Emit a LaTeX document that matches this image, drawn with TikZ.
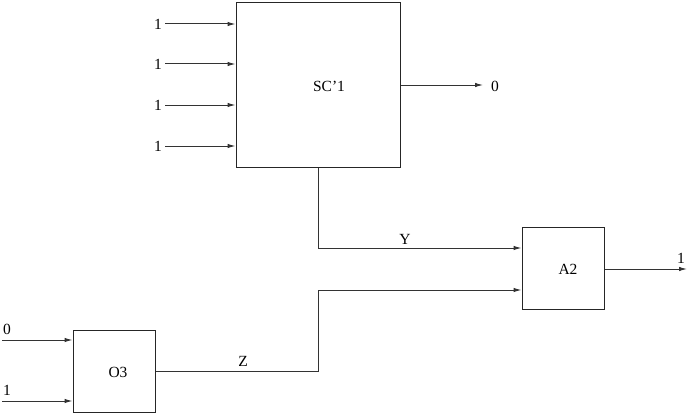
\documentclass[tikz,border=0pt]{standalone}
\usepackage{fontspec}
\setmainfont{Liberation Serif}
\usetikzlibrary{arrows.meta}
\begin{document}
\begin{tikzpicture}[x=1pt,y=-1pt,
  blk/.style={draw=black!85,line width=1pt,minimum width=#1,minimum height=#1,inner sep=0pt},
  wire/.style={draw=black!80,line width=1pt},
  arr/.style={wire,-{Latex[length=8pt,width=4.5pt]}},
  lbl/.style={inner sep=0pt,font=\fontsize{15.5}{18}\selectfont}]
\useasboundingbox (0,0) rectangle (696,420);
% blocks
\node[blk=164pt] (SC) at (318,85) {};
\node[blk=82pt] (A2) at (563,268.5) {};
\node[blk=82pt] (O3) at (114,371) {};
\node[lbl] (tSC) at (329,86) {SC'1};
\node[lbl] (tA2) at (568,269) {A2};
\node[lbl] (tO3) at (118,372) {O3};
% SC'1 inputs
\foreach \i/\y in {1/24,2/64,3/105,4/146}{
  \node[lbl,anchor=east] (l\i) at (162,\y) {1};
  \coordinate (s\i) at (165,\y);
  \draw[arr] (s\i) -- (SC.west |- s\i);
}
% SC'1 output
\coordinate (sco) at (483,85);
\node[lbl,anchor=west] (out0) at (491,86) {0};
\draw[arr] (SC.east |- sco) -- (sco);
% Y
\coordinate (ycorner) at (318,248);
\draw[arr] (SC.south) -- (ycorner) -- (A2.west |- ycorner);
\node[lbl] (Y) at (405,239) {Y};
% A2 output
\coordinate (a2o) at (687,269);
\draw[arr] (A2.east |- a2o) -- (a2o);
\node[lbl] (out1) at (681,258) {1};
% O3 inputs
\coordinate (oi1) at (2,340);
\coordinate (oi2) at (2,401);
\draw[arr] (oi1) -- (O3.west |- oi1);
\draw[arr] (oi2) -- (O3.west |- oi2);
\node[lbl] (in0) at (7,329) {0};
\node[lbl] (in1) at (7,390) {1};
% Z
\coordinate (z1) at (318,371);
\coordinate (z2) at (318,290);
\draw[arr] (O3.east) -- (z1) -- (z2) -- (A2.west |- z2);
\node[lbl] (Z) at (243,361) {Z};
\end{tikzpicture}
\end{document}
